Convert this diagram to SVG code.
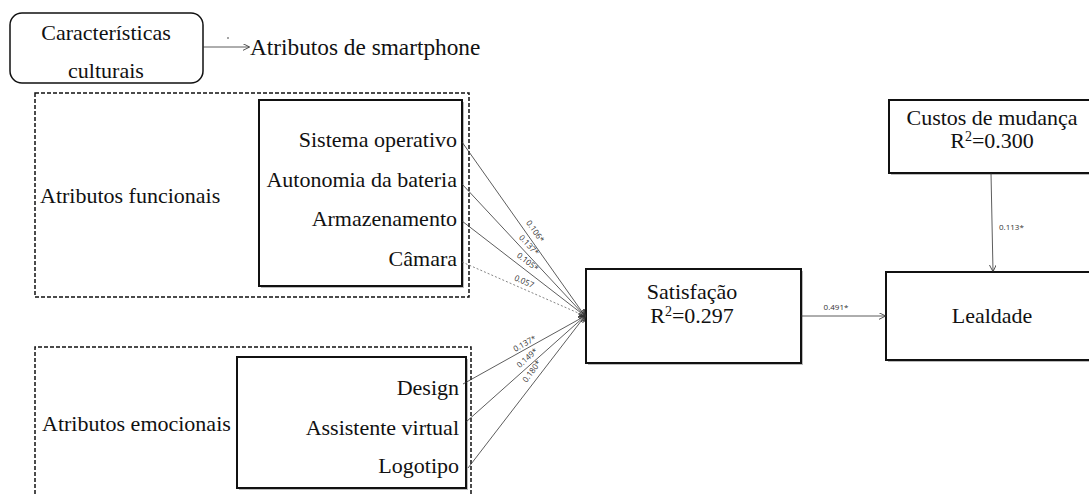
<svg xmlns="http://www.w3.org/2000/svg" width="1089" height="494" viewBox="0 0 1089 494">
  <style>
    .t { font-family: 'Liberation Serif', Tinos, 'DejaVu Serif', serif; font-size: 22px; fill: #111; }
    .lbl { font-family: 'Open Sans', 'Liberation Sans', sans-serif; font-size: 8px; fill: #333; }
    .box { fill: #fff; stroke: #111; stroke-width: 2; }
    .dash { fill: none; stroke: #111; stroke-width: 1.5; stroke-dasharray: 4 2; }
    .edge { stroke: #333; stroke-width: 0.8; fill: none; }
    .edge-dash { stroke: #666; stroke-width: 0.8; fill: none; stroke-dasharray: 2 2; }
  </style>
  <defs>
    <marker id="arrow" viewBox="0 0 10 10" refX="9" refY="5" markerWidth="7" markerHeight="7" orient="auto" markerUnits="userSpaceOnUse">
      <path d="M0,0 L10,5 L0,10" fill="none" stroke="#333" stroke-width="1.2"/>
    </marker>
  </defs>

  <rect width="1089" height="494" fill="#fff"/>

  <!-- legend: cultural characteristics -> smartphone attributes -->
  <g id="caracteristicas">
    <rect x="10" y="13" width="193" height="70" rx="12" ry="12" fill="#fff" stroke="#111" stroke-width="1.5"/>
    <text class="t" x="106" y="40" text-anchor="middle">Características</text>
    <text class="t" x="106" y="78" text-anchor="middle">culturais</text>
  </g>
  <g id="atributos-smartphone">
    <text class="t" x="250" y="55" style="font-size:23.3px">Atributos de smartphone</text>
    <circle cx="228" cy="38" r="0.8" fill="#333"/>
  </g>

  <!-- functional attributes -->
  <g id="atributos-funcionais">
    <rect class="dash" x="35" y="93" width="434" height="204"/>
    <text class="t" x="40" y="203">Atributos funcionais</text>
    <rect x="261" y="102" width="203" height="186" fill="#bbb"/>
    <rect class="box" x="259" y="100" width="203" height="186"/>
  </g>
  <g id="sistema-operativo"><text class="t" x="457" y="147" text-anchor="end">Sistema operativo</text></g>
  <g id="autonomia-bateria"><text class="t" x="457" y="187" text-anchor="end">Autonomia da bateria</text></g>
  <g id="armazenamento"><text class="t" x="457" y="226" text-anchor="end">Armazenamento</text></g>
  <g id="camara"><text class="t" x="457" y="266" text-anchor="end">Câmara</text></g>

  <!-- emotional attributes -->
  <g id="atributos-emocionais">
    <path class="dash" d="M35,494 V347 H471 V494"/>
    <text class="t" x="42" y="431">Atributos emocionais</text>
    <rect x="239" y="359" width="229" height="131" fill="#bbb"/>
    <rect class="box" x="237" y="357" width="229" height="131"/>
  </g>
  <g id="design"><text class="t" x="459" y="395" text-anchor="end">Design</text></g>
  <g id="assistente-virtual"><text class="t" x="459" y="435" text-anchor="end">Assistente virtual</text></g>
  <g id="logotipo"><text class="t" x="459" y="473" text-anchor="end">Logotipo</text></g>

  <!-- satisfaction -->
  <g id="satisfacao">
    <rect x="588" y="271" width="215" height="94" fill="#bbb"/>
    <rect class="box" x="586" y="269" width="215" height="94"/>
    <text class="t" x="692" y="299" text-anchor="middle">Satisfação</text>
    <text class="t" x="692" y="323" text-anchor="middle">R<tspan font-size="14" dy="-7">2</tspan><tspan dy="7">=0.297</tspan></text>
  </g>

  <!-- switching costs -->
  <g id="custos-mudanca">
    <rect x="891" y="102" width="200" height="73" fill="#bbb"/>
    <rect class="box" x="889" y="100" width="202" height="73"/>
    <text class="t" x="992" y="125" text-anchor="middle">Custos de mudança</text>
    <text class="t" x="992" y="148" text-anchor="middle">R<tspan font-size="14" dy="-7">2</tspan><tspan dy="7">=0.300</tspan></text>
  </g>

  <!-- loyalty -->
  <g id="lealdade">
    <rect x="888" y="274" width="203" height="88" fill="#bbb"/>
    <rect class="box" x="886" y="272" width="205" height="88"/>
    <text class="t" x="992" y="323" text-anchor="middle">Lealdade</text>
  </g>

  <!-- connectors -->
  <g id="connectors">
    <line x1="203" y1="47" x2="249" y2="47" class="edge" marker-end="url(#arrow)"/>

    <line x1="462" y1="142" x2="585" y2="316" class="edge" marker-end="url(#arrow)"/>
    <line x1="462" y1="184" x2="585" y2="316" class="edge" marker-end="url(#arrow)"/>
    <line x1="462" y1="221" x2="585" y2="316" class="edge" marker-end="url(#arrow)"/>
    <line x1="462" y1="262" x2="585" y2="316" class="edge-dash" marker-end="url(#arrow)"/>

    <line x1="463" y1="384" x2="585" y2="316" class="edge" marker-end="url(#arrow)"/>
    <line x1="466" y1="422" x2="585" y2="316" class="edge" marker-end="url(#arrow)"/>
    <line x1="468" y1="468" x2="585" y2="316" class="edge" marker-end="url(#arrow)"/>

    <line x1="801" y1="316" x2="885" y2="316" class="edge" marker-end="url(#arrow)"/>
    <line x1="991" y1="173" x2="993" y2="271" class="edge" marker-end="url(#arrow)"/>

    <text class="lbl" text-anchor="middle" transform="translate(533,233) rotate(54.7)">0.106*</text>
    <text class="lbl" text-anchor="middle" transform="translate(527,247) rotate(47)">0.137*</text>
    <text class="lbl" text-anchor="middle" transform="translate(526,264) rotate(37.7)">0.105*</text>
    <text class="lbl" text-anchor="middle" transform="translate(523,284) rotate(23.7)">0.057</text>

    <text class="lbl" text-anchor="middle" transform="translate(526,346) rotate(-29)">0.137*</text>
    <text class="lbl" text-anchor="middle" transform="translate(529,360) rotate(-42)">0.149*</text>
    <text class="lbl" text-anchor="middle" transform="translate(534,373) rotate(-53)">0.180*</text>

    <text class="lbl" x="836" y="310" text-anchor="middle">0.491*</text>
    <text class="lbl" x="999" y="230">0.113*</text>
  </g>
</svg>
